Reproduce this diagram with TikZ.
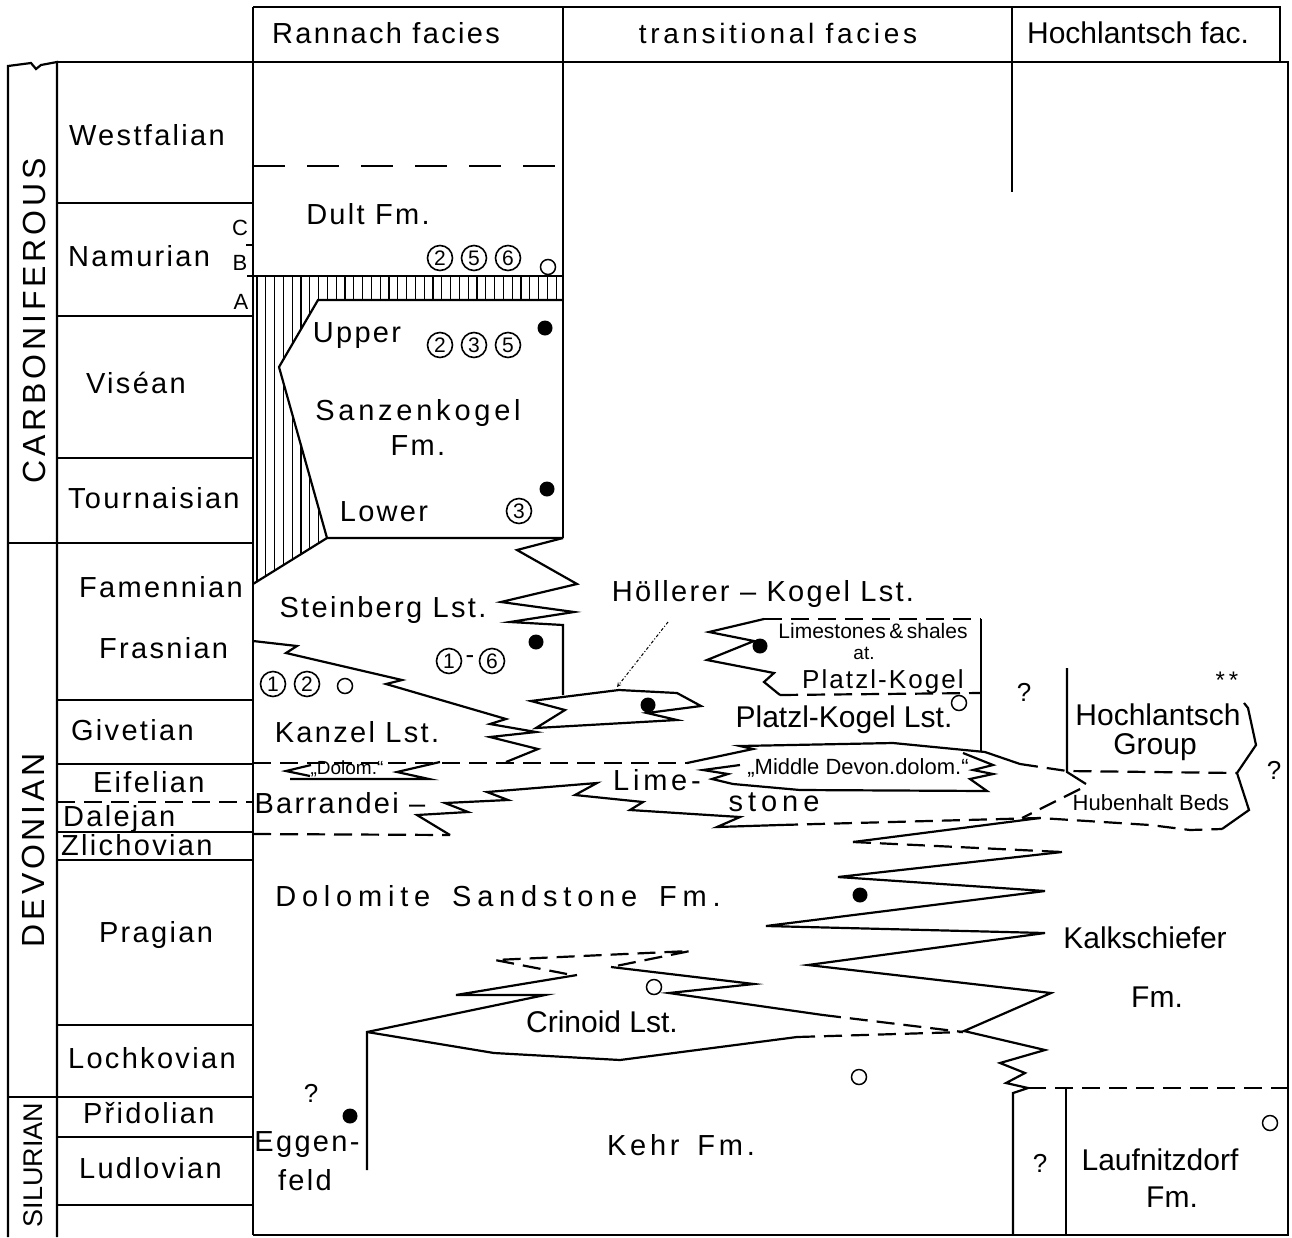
\documentclass[tikz,border=0pt]{standalone}
\usepackage{fontspec}
\setmainfont{Liberation Sans}
\newfontfamily\spacedfont[LetterSpace=8]{Liberation Sans}
\newfontfamily\midfont[LetterSpace=13]{Liberation Sans}
\newfontfamily\widefont[LetterSpace=20]{Liberation Sans}
\newfontfamily\periodfont[LetterSpace=12]{Liberation Sans}
\usepackage{tikz}
\usetikzlibrary{arrows}
\tikzstyle{stage}=[anchor=mid west, inner sep=0pt, font=\spacedfont\fontsize{29}{29}\selectfont]
\tikzstyle{fm}=[inner sep=0pt, font=\spacedfont\fontsize{29}{29}\selectfont]
\tikzstyle{fmm}=[inner sep=0pt, font=\midfont\fontsize{29}{29}\selectfont]
\tikzstyle{fmw}=[inner sep=0pt, font=\widefont\fontsize{29}{29}\selectfont]
\tikzstyle{fmc}=[inner sep=0pt, font=\fontsize{30}{30}\selectfont]
\tikzstyle{small}=[inner sep=0pt, font=\fontsize{22}{22}\selectfont]
\tikzstyle{query}=[inner sep=0pt, font=\fontsize{26}{26}\selectfont]
\tikzstyle{period}=[rotate=90, inner sep=0pt, font=\periodfont\fontsize{32}{32}\selectfont]
\tikzstyle{dsh}=[dash pattern=on 18pt off 9pt]
\tikzstyle{longdsh}=[dash pattern=on 32pt off 22pt]
\tikzstyle{fossil}=[circle, fill, inner sep=0pt, minimum size=15pt]
\tikzstyle{hollow}=[circle, draw, line width=1.5pt, inner sep=0pt, minimum size=15pt]
\tikzstyle{zone}=[circle, draw, line width=1.6pt, inner sep=0pt, minimum size=25pt, font=\fontsize{21}{21}\selectfont]
\newcommand{\fossil}{\node[fossil]}
\newcommand{\hollow}{\node[hollow]}
\newcommand{\zone}{\node[zone]}

\begin{document}
\begin{tikzpicture}[x=1pt, y=-1pt, line width=2.2pt]
\useasboundingbox (0,0) rectangle (1292,1237);

\draw (253,7) -- (1280,7) -- (1280,62);
\draw (57,62) -- (1288,62) -- (1288,1235) -- (253,1235);
\draw (253,7) -- (253,1235);
\draw (563,7) -- (563,538);
\draw (1012,7) -- (1012,192);
\draw (8,1237) -- (8,66) -- (31,63) -- (36,69) -- (41,65) -- (57,62) -- (57,1237);
\foreach \sy in {203,316,458,700,764,832,860,1025,1137,1205}
  \draw (57,\sy) -- (253,\sy);
\foreach \sy in {543,1097}
  \draw (8,\sy) -- (253,\sy);
\draw[dsh] (57,802) -- (253,802);
\draw[line width=1.5pt] (246,245) -- (253,245);

\node (rannach) at (386,33) [fm] {Rannach facies};
\node (transit) at (778,33) [fmm, font=\midfont\fontsize{28}{28}\selectfont] {transitional facies};
\node (hochfac) at (1138,33) [fmc] {Hochlantsch fac.};

\node (carbon) at (34,321) [period] {CARBONIFEROUS};
\node (devon) at (33,850) [period] {DEVONIAN};
\node (silur) at (33,1165) [period, font=\fontsize{27}{27}\selectfont] {SILURIAN};

\node (westf) at (68,143) [stage] {Westfalian};
\node (namur) at (67,264) [stage] {Namurian};
\node (visean) at (85,391) [stage] {Viséan};
\node (tourn) at (67,506) [stage] {Tournaisian};
\node (famen) at (78,595) [stage] {Famennian};
\node (frasn) at (98,656) [stage] {Frasnian};
\node (givet) at (70,738) [stage] {Givetian};
\node (eifel) at (92,790) [stage] {Eifelian};
\node (dalej) at (62,824) [stage] {Dalejan};
\node (zlich) at (60,853) [stage] {Zlichovian};
\node (pragi) at (98,940) [stage] {Pragian};
\node (lochk) at (67,1066) [stage] {Lochkovian};
\node (pridol) at (82,1121) [stage] {Přidolian};
\node (ludlo) at (78,1176) [stage] {Ludlovian};
\node (subc) at (240,228) [small] {C};
\node (subb) at (240,263) [small] {B};
\node (suba) at (241,302) [small] {A};

\draw[longdsh] (253,166) -- (563,166);
\begin{scope}
  \clip (253,276) -- (563,276) -- (563,300) -- (318,300) -- (279,367) -- (327,538) -- (253,584) -- cycle;
  \foreach \hx in {257,265.8,...,563}
    \draw[line width=1.2pt] (\hx,270) -- (\hx,590);
\end{scope}
\draw (247,276) -- (563,276);
\draw (563,300) -- (318,300) -- (279,367) -- (327,538) -- (563,538);
\draw (327,538) -- (253,584);

\draw (563,538) -- (517,550) -- (577,584) -- (501,602) -- (574,612) -- (510,622) -- (563,625) -- (563,695);
\draw (253,641) -- (297,646) -- (286,653) -- (402,680) -- (386,684) -- (506,719) -- (490,724) -- (536,732) -- (490,737) -- (538,749) -- (506,762);
\draw (619,690) -- (531,701) -- (565,710) -- (536,728) -- (677,720) -- (647,713) -- (701,706) -- (677,693) -- cycle;
\draw[line width=1pt, dash dot, -stealth] (668,622) -- (617,687);

\draw[dsh] (253,763) -- (687,763);
\draw (440,762) -- (397,772) -- (429,779) -- (290,779);
\draw (311,765) -- (286,771) -- (310,776);
\draw[dsh] (253,834) -- (450,835);
\draw (450,835) -- (417,815) -- (468,812) -- (445,803) -- (508,800) -- (487,792) -- (597,783) -- (575,795) -- (643,802) -- (630,810) -- (740,817) -- (717,827) -- (780,825);
\draw[dsh] (780,825) -- (1040,818) -- (1150,825) -- (1190,830) -- (1222,829);

\draw (687,763) -- (753,749) -- (740,746) -- (893,743) -- (985,752) -- (1020,764);
\draw (963,753) -- (993,765) -- (973,770) -- (993,774) -- (970,779) -- (987,791) -- (800,790) -- (733,784) -- (712,779) -- (728,774) -- (703,770) -- (740,765);
\draw[dsh] (764,619) -- (981,619);
\draw (981,619) -- (981,752);
\draw (764,619) -- (709,632) -- (754,641) -- (707,660) -- (774,673) -- (764,682) -- (780,695);
\draw[dsh] (780,695) -- (981,693);

\draw[dsh] (1020,764) -- (1067,771) -- (1237,773);
\draw (1067,668) -- (1067,772) -- (1086,784);
\draw[dsh] (1080,789) -- (1022,818);
\draw (1222,829) -- (1249,810) -- (1237,773) -- (1256,745) -- (1248,708) -- (1244,703);

\draw (1040,818) -- (853,842);
\draw[dsh] (853,842) -- (1062,852);
\draw (1062,852) -- (838,877) -- (1045,891) -- (766,926) -- (1045,933) -- (808,965) -- (1051,993) -- (964,1031) -- (1045,1050) -- (1000,1063) -- (1025,1073) -- (1006,1083) -- (1028,1088) -- (1013,1093) -- (1013,1235);
\draw[dsh] (1028,1088) -- (1288,1088);
\draw (1066,1088) -- (1066,1235);

\draw[dsh] (567,974) -- (495,960) -- (690,951) -- (611,967);
\draw (577,975) -- (456,995) -- (545,995) -- (367,1032) -- (367,1170);
\draw (611,967) -- (754,984) -- (669,993) -- (823,1015);
\draw[dsh] (823,1015) -- (963,1032);
\draw (367,1032) -- (494,1053) -- (620,1060) -- (797,1037);
\draw[dsh] (797,1037) -- (963,1032);

\node (dult) at (368,214) [fm] {Dult Fm.};
\zone (z1) at (440,258) {2};
\zone (z2) at (474,258) {5};
\zone (z3) at (508,258) {6};
\hollow (h1) at (548,267) {};
\node (upper) at (357,336) [fm] {Upper};
\zone (z4) at (440,345) {2};
\zone (z5) at (474,345) {3};
\zone (z6) at (508,345) {5};
\fossil (f1) at (545,328) {};
\node (sanzen) at (418,413) [fmm] {Sanzenkogel};
\node (sanzfm) at (418,446) [fm] {Fm.};
\node (lower) at (384,512) [fm] {Lower};
\zone (z7) at (519,511) {3};
\fossil (f2) at (547,489) {};
\node (steinb) at (383,610) [fm] {Steinberg Lst.};
\zone (z8) at (449,661) {1};
\node (zdash) at (470,660) [fmc, font=\fontsize{26}{26}\selectfont] {-};
\zone (z9) at (492,661) {6};
\fossil (f3) at (536,642) {};
\zone (z10) at (273,684) {1};
\zone (z11) at (307,684) {2};
\hollow (h2) at (345,686) {};
\node (kanzel) at (357,732) [fm] {Kanzel Lst.};
\node (dolom) at (347,769) [small, font=\fontsize{19}{19}\selectfont] {„Dolom.“};
\node (barr) at (340,803) [fm] {Barrandei –};
\node (lime) at (657,780) [fmm] {Lime-};
\node (stone) at (774,802) [fmw] {s\hspace{5pt}t\hspace{5pt}o\hspace{5pt}n\hspace{5pt}e};
\node (dolos) at (498,896) [fmw] {Dolomite\hspace{8pt} Sandstone\hspace{8pt} Fm.};
\node (crin) at (602,1022) [fmc] {Crinoid Lst.};
\hollow (h3) at (654,987) {};
\node (kehr) at (681,1145) [fmm] {Kehr\hspace{6pt} Fm.};
\node (q1) at (311,1093) [query] {?};
\fossil (f4) at (350,1116) {};
\node (eggen) at (307,1145) [fm] {Eggen-};
\node (feld) at (305,1180) [fm] {feld};

\node (holl) at (763,594) [fm] {Höllerer – Kogel Lst.};
\fossil (f5) at (648,705) {};
\node (limsh) at (873,631) [small, font=\fontsize{21}{21}\selectfont] {Limestones\,\&\,shales};
\node (limat) at (864,653) [small, font=\fontsize{19}{19}\selectfont] {at.};
\node (platzl) at (883,682) [fm, font=\spacedfont\fontsize{26}{26}\selectfont] {Platzl-Kogel};
\fossil (f6) at (760,646) {};
\hollow (h4) at (959,703) {};
\node (platzlst) at (844,720) [fmc] {Platzl-Kogel Lst.};
\node (middev) at (858,768) [small] {„Middle Devon.dolom.“};
\node (q2) at (1024,692) [query] {?};
\node (stars) at (1227,680) [small, font=\fontsize{24}{24}\selectfont] {*\,*};
\node (hochl) at (1158,715) [fmc] {Hochlantsch};
\node (group) at (1155,747) [fmc] {Group};
\node (q3) at (1274,770) [query] {?};
\node (huben) at (1151,803) [small] {Hubenhalt Beds};
\fossil (f7) at (860,895) {};
\node (kalk) at (1145,938) [fmc] {Kalkschiefer};
\node (kalkfm) at (1157,997) [fmc] {Fm.};
\hollow (h5) at (859,1077) {};
\node (q4) at (1040,1163) [query] {?};
\node (laufn) at (1160,1160) [fmc] {Laufnitzdorf};
\node (laufm) at (1172,1197) [fmc] {Fm.};
\hollow (h6) at (1270,1123) {};
\end{tikzpicture}
\end{document}
